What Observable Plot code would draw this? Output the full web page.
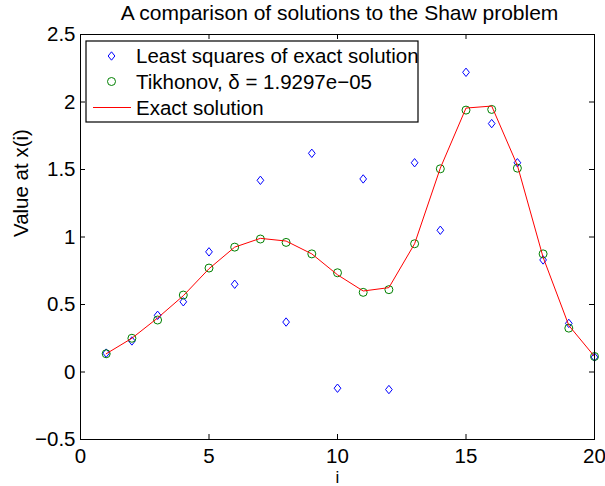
<!DOCTYPE html>
<html><head><meta charset="utf-8">
<script src="https://cdn.jsdelivr.net/npm/d3@7"></script>
<script src="https://cdn.jsdelivr.net/npm/@observablehq/plot@0.6"></script>
<style>
body{margin:0;background:#fff;}
svg{font-family:"Liberation Sans",Arial,Helvetica,sans-serif;}
</style>
</head><body><div id="chart"></div>
<script>
const index = [1,2,3,4,5,6,7,8,9,10,11,12,13,14,15,16,17,18,19,20];
const leastSquares = [0.14,0.23,0.42,0.52,0.89,0.65,1.42,0.37,1.62,-0.12,1.43,-0.13,1.55,1.05,2.22,1.84,1.55,0.83,0.36,0.11];
const tikhonov = [0.135,0.25,0.385,0.57,0.77,0.925,0.985,0.96,0.875,0.735,0.59,0.61,0.95,1.505,1.94,1.945,1.51,0.875,0.325,0.115];
const exact = [0.135,0.25,0.40,0.565,0.765,0.925,0.99,0.97,0.875,0.72,0.60,0.625,0.95,1.51,1.955,1.97,1.53,0.85,0.345,0.115];
const xTicks = [0,5,10,15,20];
const yTicks = [-0.5,0,0.5,1,1.5,2,2.5];
const titleText = "A comparison of solutions to the Shaw problem";
const xLabel = "i";
const yLabel = "Value at x(i)";
const legendLabels = ["Least squares of exact solution","Tikhonov, \u03B4 = 1.9297e\u221205","Exact solution"];

const W = 605, H = 486, mL = 80, mR = 11, mT = 34, mB = 47;
const innerW = W - mL - mR, innerH = H - mT - mB, tk = 5;

const diamondSym = {
  draw(ctx, size) {
    const r = Math.sqrt(size / Math.PI);
    const h = r, w = r * 0.8;
    ctx.moveTo(0, -h); ctx.lineTo(w, 0); ctx.lineTo(0, h); ctx.lineTo(-w, 0); ctx.closePath();
  }
};

const blue = "#0000ff", green = "#008000", red = "#ff0000";

const svg = Plot.plot({
  width: W, height: H,
  marginLeft: mL, marginRight: mR, marginTop: mT, marginBottom: mB,
  style: {fontFamily: '"Liberation Sans",Arial,sans-serif', fontSize: "20px", color: "#000", background: "#fff", overflow: "visible"},
  x: {domain: [0, 20], ticks: xTicks},
  y: {domain: [-0.5, 2.5], ticks: yTicks},
  marks: [
    Plot.ruleX(xTicks.slice(1, -1), {x: d => d, insetTop: innerH - tk, stroke: "#000"}),
    Plot.ruleX(xTicks.slice(1, -1), {x: d => d, insetBottom: innerH - tk, stroke: "#000"}),
    Plot.ruleY(yTicks.slice(1, -1), {y: d => d, insetRight: innerW - tk, stroke: "#000"}),
    Plot.ruleY(yTicks.slice(1, -1), {y: d => d, insetLeft: innerW - tk, stroke: "#000"}),
    Plot.axisX(xTicks, {tickSize: 0, tickPadding: 9, label: null, fontSize: 20.5}),
    Plot.axisY(yTicks, {tickSize: 0, tickPadding: 5, label: null, fontSize: 20.5, tickFormat: d => d3.format("")(d).replace("-", "\u2212")}),
    Plot.dot(leastSquares, {x: index, y: leastSquares, symbol: diamondSym, r: 4.2, stroke: blue, fill: "none", strokeWidth: 1}),
    Plot.dot(tikhonov, {x: index, y: tikhonov, symbol: "circle", r: 4, stroke: green, fill: "none", strokeWidth: 1}),
    Plot.line(exact, {x: index, y: exact, stroke: red, strokeWidth: 1}),
    Plot.frame({stroke: "#000", strokeWidth: 1}),
    Plot.text([titleText], {frameAnchor: "top", dy: -21, dx: 2, lineAnchor: "middle", fontSize: 21, fill: "#000"}),
    Plot.text([xLabel], {frameAnchor: "bottom", dy: 38, lineAnchor: "middle", fontSize: 17, fill: "#000"}),
    Plot.text([yLabel], {frameAnchor: "left", dx: -59, rotate: -90, lineAnchor: "middle", fontSize: 20.5, fill: "#000"})
  ]
});

// Legend box inside the axes (top-left), MATLAB style
const lg = d3.select(svg).append("g").attr("font-size", "20.5px").attr("fill", "#000").attr("text-anchor", "start");
lg.append("rect").attr("x", 86).attr("y", 41).attr("width", 332).attr("height", 81)
  .attr("fill", "#fff").attr("stroke", "#000").attr("stroke-width", 1.2);
const rowsY = [56, 81.5, 107.5];
const mx = 111.5;
lg.append("path").attr("transform", `translate(${mx},${rowsY[0]})`)
  .attr("d", d3.symbol(diamondSym, Math.PI * 4.2 * 4.2)()).attr("fill", "none").attr("stroke", blue);
lg.append("circle").attr("cx", mx).attr("cy", rowsY[1]).attr("r", 4).attr("fill", "none").attr("stroke", green);
lg.append("line").attr("x1", 93).attr("x2", 131).attr("y1", rowsY[2]).attr("y2", rowsY[2]).attr("stroke", red);
legendLabels.forEach((t, i) => {
  lg.append("text").attr("x", 136).attr("y", rowsY[i]).attr("dy", "0.35em").attr("text-anchor", "start").text(t);
});

document.getElementById("chart").appendChild(svg);
</script>
</body></html>
